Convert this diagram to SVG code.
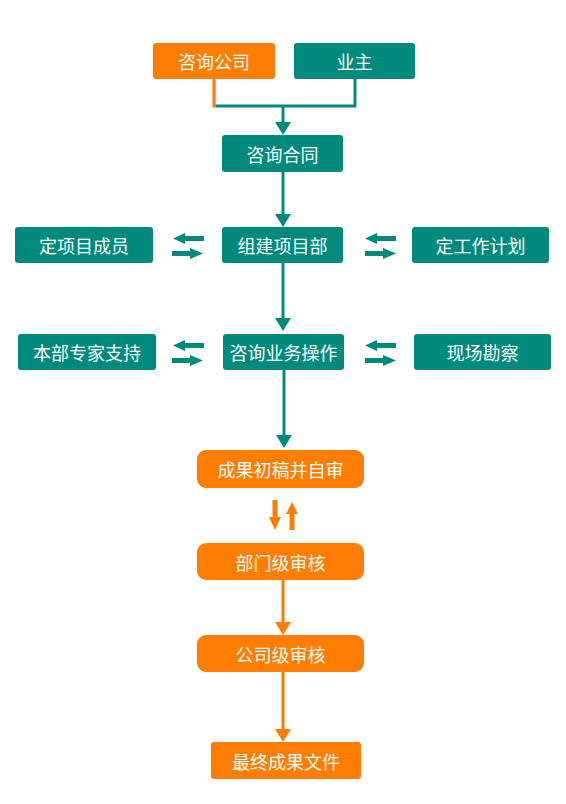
<svg xmlns="http://www.w3.org/2000/svg" xmlns:xlink="http://www.w3.org/1999/xlink" width="566" height="804" viewBox="0 0 566 804">
<style>
.t{fill:#008A7E}
.o{fill:#FF7D00}
.lt{stroke:#008A7E;stroke-width:3;fill:none}
.lo{stroke:#FF7D00;stroke-width:3;fill:none}
text{font-family:"Microsoft YaHei","Noto Sans CJK SC","Noto Sans",sans-serif;font-size:18px;fill:#FFFFFF;text-anchor:middle;dominant-baseline:central}
</style>
<defs>
<marker id="mt" viewBox="0 0 13 16" refX="0" refY="8" markerWidth="13" markerHeight="16" markerUnits="userSpaceOnUse" orient="auto"><path d="M0,0 L13,8 L0,16 z" fill="#008A7E"/></marker>
<marker id="mo" viewBox="0 0 13 16" refX="0" refY="8" markerWidth="13" markerHeight="16" markerUnits="userSpaceOnUse" orient="auto"><path d="M0,0 L13,8 L0,16 z" fill="#FF7D00"/></marker>
<path id="al" d="M0,0 L12,-5.5 L12,-2.5 L31,-2.5 L31,2.5 L12,2.5 L12,5.5 z"/>
<path id="ar" d="M0,0 L-13,-5.5 L-13,-2.5 L-31,-2.5 L-31,2.5 L-13,2.5 L-13,5.5 z"/>
</defs>
<g id="connectors">
<path class="lo" d="M214,79 V107.5"/>
<path class="lt" d="M215.5,106 H355 V79"/>
<path class="lt" d="M283,106 V122" marker-end="url(#mt)"/>
<path class="lt" d="M283,172 V214" marker-end="url(#mt)"/>
<path class="lt" d="M283,263 V318" marker-end="url(#mt)"/>
<path class="lt" d="M284,370 V435" marker-end="url(#mt)"/>
<path class="lo" d="M283,580 V622" marker-end="url(#mo)"/>
<path class="lo" d="M283,672 V729" marker-end="url(#mo)"/>
<use xlink:href="#al" class="t" x="173" y="238.5"/>
<use xlink:href="#ar" class="t" x="203" y="253.5"/>
<use xlink:href="#al" class="t" x="365" y="238.5"/>
<use xlink:href="#ar" class="t" x="396" y="253.5"/>
<use xlink:href="#al" class="t" x="173" y="345.5"/>
<use xlink:href="#ar" class="t" x="203" y="360.5"/>
<use xlink:href="#al" class="t" x="365" y="345.5"/>
<use xlink:href="#ar" class="t" x="396" y="360.5"/>
<path class="o" d="M272.5,500 H277.5 V517 H281 L275,530 L269,517 H272.5 z"/>
<path class="o" d="M289.5,530 H294.5 V514 H298 L292,502 L286,514 H289.5 z"/>
</g>
<g id="n-zixungongsi"><rect class="o" x="153" y="43" width="122" height="36" rx="3"/><text x="214" y="61">咨询公司</text></g>
<g id="n-yezhu"><rect class="t" x="294" y="43" width="121" height="36" rx="3"/><text x="354.5" y="61">业主</text></g>
<g id="n-zixunhetong"><rect class="t" x="222" y="135" width="121" height="37" rx="3"/><text x="282.5" y="153.5">咨询合同</text></g>
<g id="n-dingxiangmu"><rect class="t" x="15" y="227" width="138" height="36" rx="3"/><text x="84" y="245">定项目成员</text></g>
<g id="n-zujian"><rect class="t" x="222" y="227" width="121" height="36" rx="3"/><text x="282.5" y="245">组建项目部</text></g>
<g id="n-dinggongzuo"><rect class="t" x="412" y="227" width="137" height="36" rx="3"/><text x="480.5" y="245">定工作计划</text></g>
<g id="n-benbu"><rect class="t" x="18" y="334" width="138" height="36" rx="3"/><text x="87" y="352">本部专家支持</text></g>
<g id="n-caozuo"><rect class="t" x="223" y="334" width="121" height="36" rx="3"/><text x="283.5" y="352">咨询业务操作</text></g>
<g id="n-xianchang"><rect class="t" x="414" y="334" width="137" height="36" rx="3"/><text x="482.5" y="352">现场勘察</text></g>
<g id="n-chugao"><rect class="o" x="197" y="450" width="167" height="38" rx="9"/><text x="280.5" y="469">成果初稿并自审</text></g>
<g id="n-bumen"><rect class="o" x="197" y="543" width="167" height="37" rx="9"/><text x="280.5" y="561.5">部门级审核</text></g>
<g id="n-gongsi"><rect class="o" x="197" y="635" width="167" height="37" rx="9"/><text x="280.5" y="653.5">公司级审核</text></g>
<g id="n-zuizhong"><rect class="o" x="211" y="742" width="150" height="37" rx="3"/><text x="286" y="760.5">最终成果文件</text></g>
</svg>
